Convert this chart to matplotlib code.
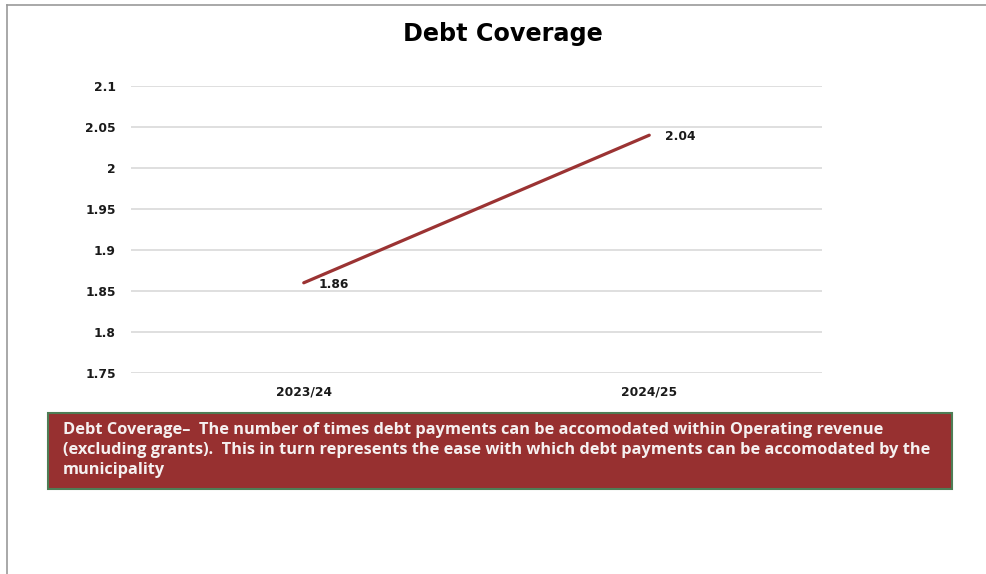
import matplotlib.pyplot as plt
from matplotlib.lines import Line2D
from matplotlib.patches import Rectangle

# --- data ---
years = ['2023/24', '2024/25']
debt_coverage = [1.86, 2.04]
y_ticks = [1.75, 1.8, 1.85, 1.9, 1.95, 2, 2.05, 2.1]
y_tick_labels = ['1.75', '1.8', '1.85', '1.9', '1.95', '2', '2.05', '2.1']
note_text = ("Debt Coverage\u2013  The number of times debt payments can be accomodated within Operating revenue\n"
             "(excluding grants).  This in turn represents the ease with which debt payments can be accomodated by the\n"
             "municipality")

W, H = 987, 574
fig = plt.figure(figsize=(W / 100, H / 100), dpi=100)
fig.patch.set_facecolor('white')

# plot area in pixels: left 131, right 822, top 86 (2.1), bottom 373 (1.75)
ax = fig.add_axes([131 / W, 1 - 373 / H, (822 - 131) / W, (373 - 86) / H])
x = [0.5, 1.5]
ax.plot(x, debt_coverage, color='#9b3333', linewidth=2.3, solid_capstyle='round')
ax.set_xlim(0, 2)
ax.set_ylim(1.75, 2.1)
ax.set_yticks(y_ticks)
ax.set_yticklabels(y_tick_labels)
ax.set_xticks(x)
ax.set_xticklabels(years)
for lbl in ax.get_xticklabels() + ax.get_yticklabels():
    lbl.set_fontfamily('DejaVu Sans')
    lbl.set_fontweight('bold')
    lbl.set_fontsize(8.8)
    lbl.set_color('#1a1a1a')
ax.tick_params(length=0)
ax.tick_params(axis='y', pad=11)
ax.tick_params(axis='x', pad=9)
ax.grid(axis='y', color='#d9d9d9', linewidth=1.2)
ax.set_axisbelow(True)
for s in ax.spines.values():
    s.set_visible(False)

# value labels
for xi, v in zip(x, debt_coverage):
    ax.annotate(f'{v:.2f}', (xi, v), xytext=(11, -1), textcoords='offset points',
                ha='left', va='center', fontsize=8.8, fontweight='bold',
                family='DejaVu Sans', color='#1a1a1a')

fig.text(503 / W, 1 - 34 / H, 'Debt Coverage', ha='center', va='center',
         fontsize=17.2, fontweight='bold', family='DejaVu Sans', color='black')

# outer frame (left and top edges)
fig.add_artist(Line2D([7 / W, 7 / W], [0, 1 - 5 / H], color='#999999', linewidth=1.2))
fig.add_artist(Line2D([7 / W, 1], [1 - 5 / H, 1 - 5 / H], color='#999999', linewidth=1.2))

# note box
fig.add_artist(Rectangle((48 / W, 1 - 489 / H), (952 - 48) / W, (489 - 413) / H,
                         transform=fig.transFigure, facecolor='#973030',
                         edgecolor='#4e7d55', linewidth=1.5))
fig.text(63 / W, 1 - 421.5 / H, note_text, ha='left', va='top', fontsize=11.8,
         fontweight='bold', family='Open Sans', color='#f5f0f0', linespacing=1.36)

fig.savefig('out.png', dpi=100)
